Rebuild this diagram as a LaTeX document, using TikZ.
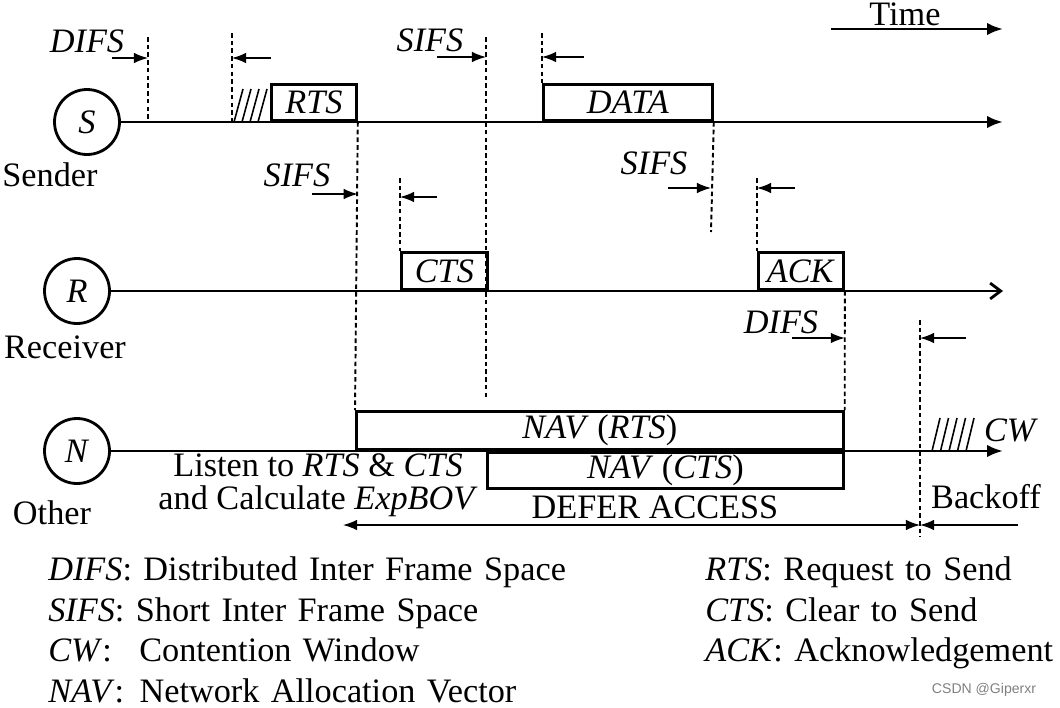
\documentclass[tikz,border=0pt]{standalone}
\usepackage{fontspec}
\setmainfont{Liberation Serif}
\setsansfont{Liberation Sans}
\usetikzlibrary{arrows.meta}

\tikzstyle{packet} = [draw, rectangle, line width=1.6pt, inner sep=0pt, text centered]
\tikzstyle{station} = [draw, circle, line width=1.6pt, minimum size=1.3cm, inner sep=0pt]
\tikzstyle{timeline} = [draw, line width=1.6pt, -{Latex[length=9pt, width=7pt]}]
\tikzstyle{slot} = [draw, line width=1.1pt, dash pattern=on 2.6pt off 1.8pt]
\tikzstyle{gaparrow} = [draw, line width=0.8pt, -{Latex[length=8pt, width=6pt]}]
\tikzstyle{deferspan} = [draw, line width=0.8pt, {Latex[length=8pt, width=6pt]}-{Latex[length=8pt, width=6pt]}]
\tikzstyle{hatch} = [draw, line width=0.9pt]
\tikzstyle{legendrow} = [text width=11cm, align=left, inner sep=0pt, text height=0.65em, text depth=0.1em]

\begin{document}
\begin{tikzpicture}[x=0.02cm, y=-0.02cm, node distance=0.81cm, font=\fontsize{19.5}{17}\selectfont]
	\useasboundingbox (0,0) rectangle (1060,707);

	\node (time) at (905,14) {Time};
	\coordinate (tfrom) at (831,29);
	\coordinate (tto) at (1003,29);
	\draw [timeline] (tfrom) -- (tto);

	\node [station] (S) at (87,122) {\textit{S}};
	\node [station] (R) at (77,291) {\textit{R}};
	\node [station] (N) at (77,451) {\textit{N}};
	\node (sender) at (50,175) {Sender};
	\node (receiver) at (65,347) {Receiver};
	\node (other) at (52,513) {Other};

	\draw [timeline] (S.east) -- (S.east -| tto);
	\draw [line width=1.6pt, -{Straight Barb[length=6pt, width=9pt]}] (R.east) -- (R.east -| tto);
	\draw [timeline] (N.east) -- (N.east -| tto);

	\node [packet, anchor=south west, minimum width=1.7cm, minimum height=0.72cm] (rts) at (270,122) {\textit{RTS}};
	\node [packet, anchor=south west, minimum width=3.38cm, minimum height=0.72cm] (data) at (542,122) {\textit{DATA}};
	\node [packet, anchor=south west, minimum width=1.72cm, minimum height=0.74cm] (cts) at (400,291) {\textit{CTS}};
	\node [packet, anchor=south west, minimum width=1.7cm, minimum height=0.74cm] (ack) at (757,291) {\textit{ACK}};
	\node [packet, anchor=south west, minimum width=9.74cm, minimum height=0.76cm] (navr) at (355,451) {\textit{NAV} (\textit{RTS})};
	\node [packet, anchor=north west, minimum width=7.12cm, minimum height=0.72cm] (navc) at (486,451) {\textit{NAV} (\textit{CTS})};

	\foreach \i in {0,...,3} \draw [hatch] (234+8*\i,122) -- (243+8*\i,89);
	\foreach \i in {0,...,4} \draw [hatch] (932+8.5*\i,451) -- (940+8.5*\i,418);
	\node (cw) at (1011,430) {\textit{CW}};

	\coordinate (difsTop) at (148,37);
	\coordinate (boTopS) at (232,33);
	\coordinate (sifsTop) at (486,37);
	\coordinate (sifsBot) at (486,398);
	\coordinate (dataTop) at (542,33);
	\coordinate (ctsTop) at (400,178);
	\coordinate (dataBot) at (711,232);
	\coordinate (ackTop) at (757,178);
	\coordinate (boTop) at (920,320);
	\coordinate (boBot) at (920,537);

	\draw [slot] (difsTop) -- (difsTop |- S.east);
	\draw [slot] (boTopS) -- (boTopS |- S.east);
	\draw [slot] (rts.south east) -- (navr.north west);
	\draw [slot] (sifsTop) -- (sifsBot);
	\draw [slot] (dataTop) -- (data.north west);
	\draw [slot] (ctsTop) -- (cts.north west);
	\draw [slot] (data.south east) -- (dataBot);
	\draw [slot] (ackTop) -- (ack.north west);
	\draw [slot] (ack.south east) -- (navr.north east);
	\draw [slot] (boTop) -- (boBot);

	\node (difs1) at (87,41) {\textit{DIFS}};
	\node (sifs1) at (430,40) {\textit{SIFS}};
	\node (sifs2) at (297,175) {\textit{SIFS}};
	\node (sifs3) at (654,163) {\textit{SIFS}};
	\node (difs2) at (781,322) {\textit{DIFS}};

	\coordinate (g1) at (112,58);
	\coordinate (g2) at (271,58);
	\coordinate (g3) at (437,57);
	\coordinate (g4) at (584,57);
	\coordinate (g5) at (312,194);
	\coordinate (g6) at (437,197);
	\coordinate (g7) at (668,188);
	\coordinate (g8) at (795,188);
	\coordinate (g9) at (792,338);
	\coordinate (g10) at (966,338);
	\draw [gaparrow] (g1) -- (g1 -| difsTop);
	\draw [gaparrow] (g2) -- (g2 -| boTopS);
	\draw [gaparrow] (g3) -- (g3 -| sifsTop);
	\draw [gaparrow] (g4) -- (g4 -| dataTop);
	\draw [gaparrow] (g5) -- (g5 -| rts.south east);
	\draw [gaparrow] (g6) -- (g6 -| ctsTop);
	\draw [gaparrow] (g7) -- (g7 -| dataBot);
	\draw [gaparrow] (g8) -- (g8 -| ackTop);
	\draw [gaparrow] (g9) -- (g9 -| ack.south east);
	\draw [gaparrow] (g10) -- (g10 -| boTop);

	\node [align=center, font=\fontsize{19.5}{18.5}\selectfont] (listen) at (318,485) {Listen to \textit{RTS} \& \textit{CTS}\\and Calculate \textit{ExpBOV}};
	\node (defer) at (655,507) {DEFER ACCESS};
	\node (backoff) at (986,497) {Backoff};
	\coordinate (dfrom) at (343,525);
	\coordinate (bfrom) at (1018,525);
	\draw [deferspan] (dfrom) -- (dfrom -| boTop);
	\draw [gaparrow] (bfrom) -- (bfrom -| boTop);

	\node [legendrow, anchor=west] (lgdifs) at (48,576) {\textit{DIFS}: Distributed Inter Frame Space};
	\node [legendrow, below of=lgdifs] (lgsifs) {\textit{SIFS}: Short Inter Frame Space};
	\node [legendrow, below of=lgsifs] (lgcw) {\textit{CW}:\hspace{0.8em}Contention Window};
	\node [legendrow, below of=lgcw] (lgnav) {\textit{NAV}:\hspace{0.45em}Network Allocation Vector};
	\node [legendrow, text width=7cm, anchor=west] (lgrts) at (705,576) {\textit{RTS}: Request to Send};
	\node [legendrow, text width=7cm, below of=lgrts] (lgcts) {\textit{CTS}: Clear to Send};
	\node [legendrow, text width=7cm, below of=lgcts] (lgack) {\textit{ACK}: Acknowledgement};

	\node [font=\fontsize{8}{8}\sffamily, gray] (mark) at (984,690) {CSDN @Giperxr};
\end{tikzpicture}
\end{document}
